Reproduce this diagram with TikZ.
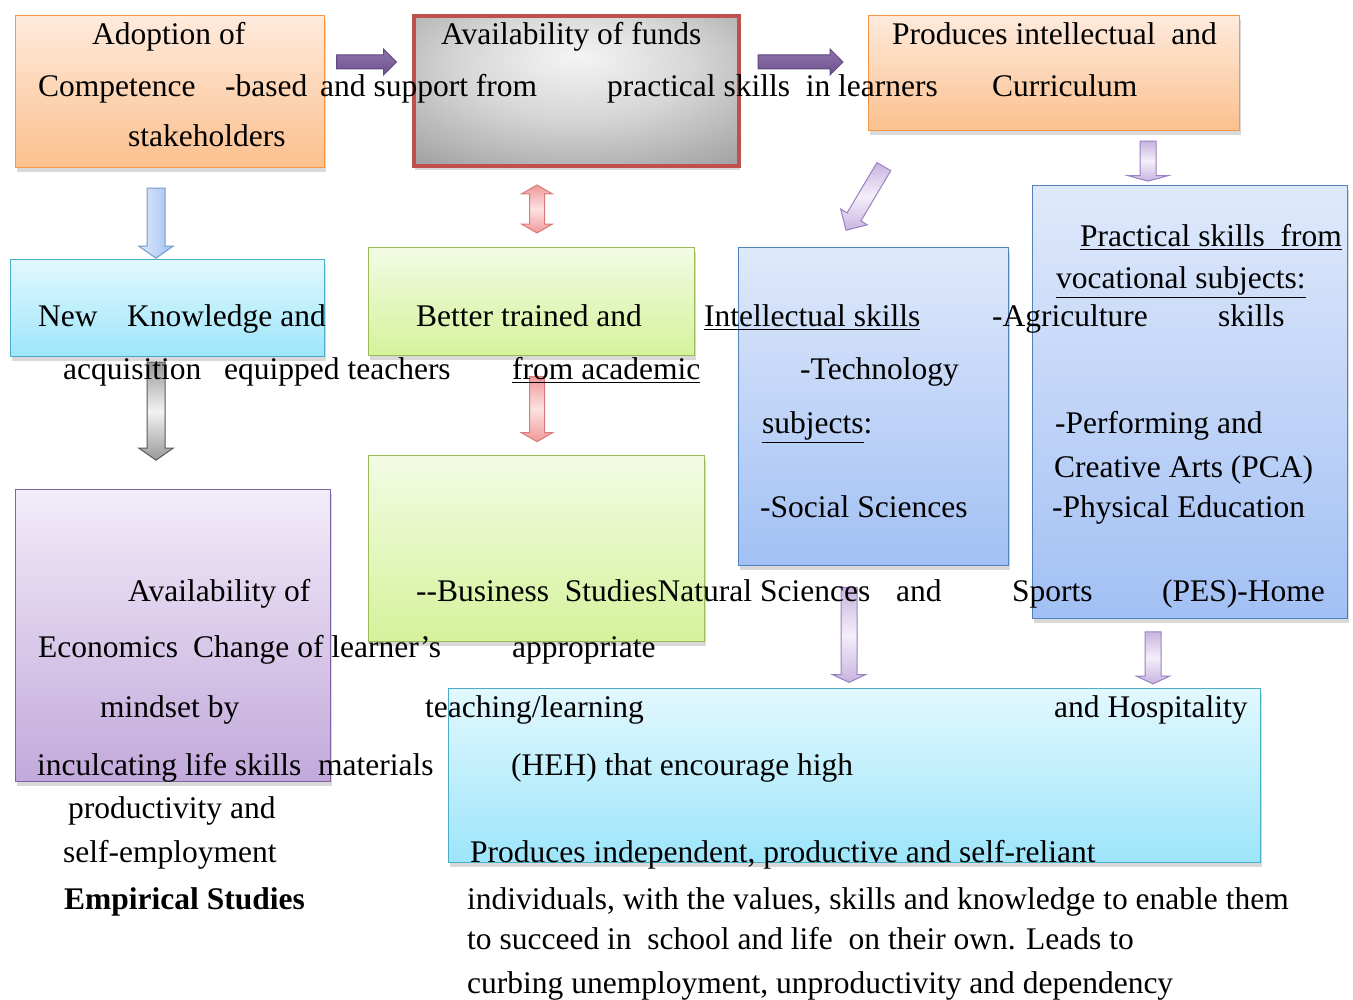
\documentclass[tikz,border=0pt]{standalone}
\usepackage{fontspec}
\setmainfont{Liberation Serif}
\usetikzlibrary{shapes.arrows, shadows}
\definecolor{orgtop}{HTML}{FEEADC}
\definecolor{orgbot}{HTML}{FBC08E}
\definecolor{orgline}{HTML}{F79646}
\definecolor{redline}{HTML}{C0504D}
\definecolor{cyantop}{HTML}{E2F8FE}
\definecolor{cyanbot}{HTML}{9DE5FA}
\definecolor{cyanline}{HTML}{4BACC6}
\definecolor{grntop}{HTML}{F3FBE4}
\definecolor{grnbot}{HTML}{D5F29B}
\definecolor{grnline}{HTML}{9BBB59}
\definecolor{bluetop}{HTML}{DFE9FB}
\definecolor{bluebot}{HTML}{A2C0F4}
\definecolor{blueline}{HTML}{4F81BD}
\definecolor{purtop}{HTML}{F2ECF9}
\definecolor{purbot}{HTML}{C2A9DB}
\definecolor{purline}{HTML}{8064A2}
\definecolor{darkpur}{HTML}{7A5B9E}
\definecolor{lavtop}{HTML}{F4EFFA}
\definecolor{lavbot}{HTML}{C8B4E0}
\definecolor{lavline}{HTML}{9A80C2}
\definecolor{pinktop}{HTML}{FCE2E2}
\definecolor{pinkbot}{HTML}{F19898}
\definecolor{pinkline}{HTML}{D77A78}
\pgfdeclareradialshading{fundsglow}{\pgfpoint{0bp}{12bp}}{%
  color(0bp)=(black!4); color(18bp)=(black!16); color(40bp)=(black!38);
  color(55bp)=(black!52); color(70bp)=(black!55)}

\begin{document}
\begin{tikzpicture}[x=1pt, y=-1pt,
    every node/.style={font=\fontsize{31.5}{37}\selectfont},
    box/.style={rectangle, anchor=north west, inner sep=0pt,
                drop shadow={shadow xshift=1pt, shadow yshift=-4pt, opacity=.3}},
    orangebox/.style={box, draw=orgline, line width=1.2pt, top color=orgtop, bottom color=orgbot},
    fundsbox/.style={box, draw=redline, line width=4pt, shading=fundsglow},
    cyanbox/.style={box, draw=cyanline, line width=1.2pt, top color=cyantop, bottom color=cyanbot},
    greenbox/.style={box, draw=grnline, line width=1.2pt, top color=grntop, bottom color=grnbot},
    bluebox/.style={box, draw=blueline, line width=1.2pt, top color=bluetop, bottom color=bluebot},
    purplebox/.style={box, draw=purline, line width=1.2pt, top color=purtop, bottom color=purbot},
    % shaft = 2*inner ysep, head = shaft + 2*head extend
    blockarr/.style={single arrow, inner xsep=0pt, line width=1pt},
    purparr/.style={blockarr, draw=darkpur!80!black, top color=darkpur!85!white, bottom color=darkpur!90!black},
    lavarr/.style={blockarr, draw=lavline, top color=lavbot, bottom color=lavbot, middle color=lavtop},
    bluearr/.style={blockarr, draw=blueline!80, left color=bluetop, right color=bluebot},
    grayarr/.style={blockarr, draw=black!65, top color=black!40, bottom color=black!40, middle color=black!5},
    redarr/.style={blockarr, draw=pinkline, top color=pinkbot, bottom color=pinkbot, middle color=pinktop},
    lbl/.style={anchor=base west, inner sep=0pt}
]
\useasboundingbox (0,0) rectangle (1353,1000);

% boxes
\node[orangebox, minimum width=309pt, minimum height=152pt] (adoptbox) at (15,15) {};
\node[fundsbox, minimum width=325pt, minimum height=150pt] (fundsbox) at (412,14) {};
\node[orangebox, minimum width=371pt, minimum height=115pt] (prodbox) at (868,15) {};
\node[cyanbox, minimum width=314pt, minimum height=97pt] (knowbox) at (10,259) {};
\node[greenbox, minimum width=326pt, minimum height=108pt] (teachbox) at (368,247) {};
\node[bluebox, minimum width=270pt, minimum height=318pt] (intelbox) at (738,247) {};
\node[bluebox, minimum width=315pt, minimum height=433pt] (practbox) at (1032,185) {};
\node[purplebox, minimum width=315pt, minimum height=292pt] (econbox) at (15,489) {};
\node[greenbox, minimum width=336pt, minimum height=186pt] (matbox) at (368,455) {};
\node[cyanbox, minimum width=812pt, minimum height=174pt] (indepbox) at (448,688) {};

% block arrows
\node[purparr, minimum height=60pt, inner ysep=6.5pt, single arrow head extend=6pt] (arrA) at (363,62) {};
\node[purparr, minimum height=85pt, inner ysep=6.5pt, single arrow head extend=6pt] (arrB) at (797,62) {};
\node[bluearr, rotate=-90, minimum height=70pt, inner ysep=8.5pt, single arrow head extend=8pt,
      single arrow tip angle=110] (arrC) at (156,220) {};
\node[grayarr, rotate=-90, minimum height=98pt, inner ysep=8.5pt, single arrow head extend=8pt,
      single arrow tip angle=110] (arrD) at (156,408) {};
\node[double arrow, inner xsep=0pt, inner ysep=7pt, line width=1pt, draw=pinkline,
      top color=pinkbot, bottom color=pinkbot, middle color=pinktop,
      rotate=90, minimum height=48pt, double arrow head extend=8pt, double arrow tip angle=120] (arrE) at (537,209) {};
\node[redarr, rotate=-90, minimum height=65pt, inner ysep=7pt, single arrow head extend=8pt,
      single arrow tip angle=120] (arrF) at (537,407) {};
\node[lavarr, rotate=-120.7, minimum height=74pt, inner ysep=7.5pt, single arrow head extend=7.5pt] (arrG) at (867,195) {};
\node[lavarr, rotate=-90, minimum height=40pt, inner ysep=7.5pt, single arrow head extend=12pt,
      single arrow tip angle=150] (arrH) at (1148,160) {};
\node[lavarr, rotate=-90, minimum height=95pt, inner ysep=7.5pt, single arrow head extend=8.5pt,
      single arrow tip angle=130] (arrI) at (849,633) {};
\node[lavarr, rotate=-90, minimum height=52pt, inner ysep=7.5pt, single arrow head extend=8.5pt,
      single arrow tip angle=130] (arrJ) at (1153,656) {};

% text as it runs across the boxes
\node[lbl] (t1) at (92,45) {Adoption of};
\node[lbl] (t2) at (38,97) {Competence};
\node[lbl] (t3) at (225,97) {-based};
\node[lbl] (t4) at (320,97) {and support from};
\node[lbl] (t5) at (607,97) {practical skills\ \ in learners};
\node[lbl] (t6) at (992,97) {Curriculum};
\node[lbl] (t7) at (128,147) {stakeholders};
\node[lbl] (t8) at (441,45) {Availability of funds};
\node[lbl] (t9) at (892,45) {Produces intellectual\ \ and};
\node[lbl] (t10) at (1080,247) {\underline{Practical skills\ \ from}};
\node[lbl] (t11) at (1056,289) {\underline{vocational subjects:}};
\node[lbl] (t12) at (38,327) {New};
\node[lbl] (t13) at (127,327) {Knowledge and};
\node[lbl] (t14) at (416,327) {Better trained and};
\node[lbl] (t15) at (704,327) {\underline{Intellectual skills}};
\node[lbl] (t16) at (992,327) {-Agriculture};
\node[lbl] (t17) at (1218,327) {skills};
\node[lbl] (t18) at (63,380) {acquisition};
\node[lbl] (t19) at (224,380) {equipped teachers};
\node[lbl] (t20) at (512,380) {\underline{from academic}};
\node[lbl] (t21) at (800,380) {-Technology};
\node[lbl] (t22) at (762,434) {\underline{subjects}:};
\node[lbl] (t23) at (1055,434) {-Performing and};
\node[lbl] (t24) at (1054,477) {Creative Arts (PCA)};
\node[lbl] (t25) at (760,517) {-Social Sciences};
\node[lbl] (t26) at (1052,517) {-Physical Education};
\node[lbl] (t27) at (128,601) {Availability of};
\node[lbl] (t28) at (416,601) {-{}-Business\ \ StudiesNatural Sciences};
\node[lbl] (t29) at (896,601) {and};
\node[lbl] (t30) at (1012,601) {Sports};
\node[lbl] (t31) at (1162,601) {(PES)-Home};
\node[lbl] (t32) at (38,657) {Economics};
\node[lbl] (t33) at (193,657) {Change of learner’s};
\node[lbl] (t34) at (512,657) {appropriate};
\node[lbl] (t35) at (100,717) {mindset by};
\node[lbl] (t36) at (425,717) {teaching/learning};
\node[lbl] (t37) at (1054,717) {and Hospitality};
\node[lbl] (t38) at (37,775) {inculcating life skills};
\node[lbl] (t39) at (318,775) {materials};
\node[lbl] (t40) at (511,775) {(HEH) that encourage high};
\node[lbl] (t41) at (68,818) {productivity and};
\node[lbl] (t42) at (63,862) {self-employment};
\node[lbl] (t43) at (470,862) {Produces independent, productive and self-reliant};
\node[lbl] (t44) at (64,909) {\textbf{Empirical Studies}};
\node[lbl] (t45) at (467,909) {individuals, with the values, skills and knowledge to enable them};
\node[lbl] (t46) at (467,949) {to succeed in\ \ school and life\ \ on their own. Leads to};
\node[lbl] (t47) at (467,993) {curbing unemployment, unproductivity and dependency};
\end{tikzpicture}
\end{document}
